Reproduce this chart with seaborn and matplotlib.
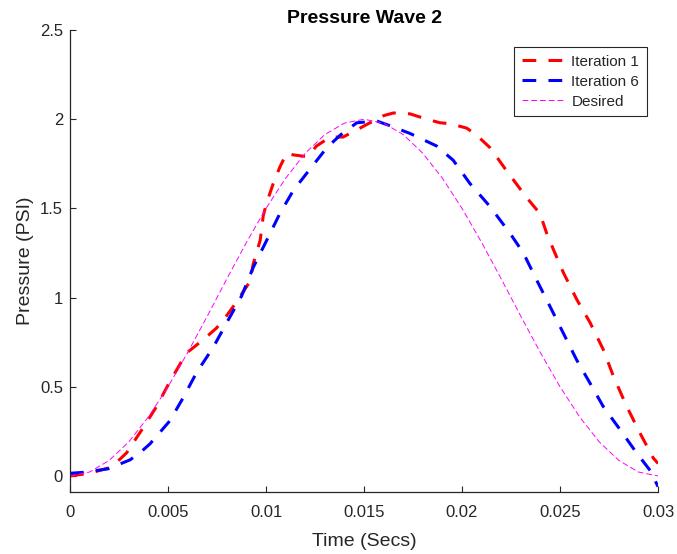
import matplotlib
matplotlib.use("Agg")
import matplotlib.pyplot as plt
import seaborn as sns
import numpy as np
import pandas as pd

# ---- data ----
t_iter1 = [0.0, 0.001, 0.00213, 0.00289, 0.00373, 0.00442, 0.0051, 0.00595, 0.0063, 0.00697,
           0.00748, 0.008, 0.00833, 0.00876, 0.00918, 0.00935, 0.0097, 0.00986, 0.01003, 0.01037,
           0.0107, 0.01105, 0.01139, 0.0121, 0.01258, 0.01327, 0.01393, 0.01463, 0.0153, 0.016,
           0.0165, 0.01735, 0.0182, 0.01888, 0.0194, 0.02024, 0.02075, 0.02143, 0.02228, 0.0233,
           0.02398, 0.02432, 0.02466, 0.02517, 0.02585, 0.02653, 0.0272, 0.02772, 0.0284, 0.02908,
           0.02976, 0.03]
p_iter1 = [0.0, 0.015, 0.05, 0.13, 0.27, 0.39, 0.53, 0.69, 0.72, 0.78,
           0.83, 0.90, 0.95, 1.02, 1.09, 1.19, 1.32, 1.46, 1.53, 1.64,
           1.73, 1.81, 1.80, 1.79, 1.85, 1.90, 1.90, 1.94, 1.98, 2.02,
           2.035, 2.03, 2.00, 1.98, 1.975, 1.95, 1.91, 1.84, 1.71, 1.56,
           1.47, 1.36, 1.27, 1.14, 0.99, 0.86, 0.71, 0.56, 0.39, 0.24,
           0.10, 0.07]

t_iter6 = [0.0, 0.00067, 0.00194, 0.00306, 0.00357, 0.00408, 0.0051, 0.00578, 0.00646, 0.0073,
           0.008, 0.00876, 0.00935, 0.01003, 0.0107, 0.01139, 0.01224, 0.0131, 0.01378, 0.01463,
           0.01565, 0.01616, 0.01735, 0.0187, 0.01955, 0.0204, 0.02143, 0.02245, 0.02313, 0.0238,
           0.02449, 0.02517, 0.02585, 0.02653, 0.0272, 0.02806, 0.0289, 0.0296, 0.03]
p_iter6 = [0.015, 0.02, 0.04, 0.09, 0.13, 0.18, 0.31, 0.44, 0.58, 0.72,
           0.86, 1.01, 1.17, 1.32, 1.47, 1.60, 1.72, 1.84, 1.91, 1.98,
           1.99, 1.97, 1.92, 1.85, 1.77, 1.64, 1.51, 1.36, 1.25, 1.10,
           0.95, 0.80, 0.65, 0.52, 0.39, 0.26, 0.13, 0.03, -0.06]

t_desired = [0.0, 0.001, 0.002, 0.003, 0.004, 0.005, 0.006, 0.007, 0.008, 0.009, 0.010,
             0.011, 0.012, 0.013, 0.014, 0.015, 0.016, 0.017, 0.018, 0.019, 0.020,
             0.021, 0.022, 0.023, 0.024, 0.025, 0.026, 0.027, 0.028, 0.029, 0.030]
p_desired = [0.0, 0.022, 0.087, 0.191, 0.331, 0.50, 0.691, 0.895, 1.105, 1.309, 1.50,
             1.669, 1.809, 1.914, 1.978, 2.0, 1.978, 1.914, 1.809, 1.669, 1.50,
             1.309, 1.105, 0.895, 0.691, 0.50, 0.331, 0.191, 0.087, 0.022, 0.0]

x_ticks = [0, 0.005, 0.01, 0.015, 0.02, 0.025, 0.03]
x_tick_labels = ["0", "0.005", "0.01", "0.015", "0.02", "0.025", "0.03"]
y_ticks = [0, 0.5, 1, 1.5, 2, 2.5]
y_tick_labels = ["0", "0.5", "1", "1.5", "2", "2.5"]

sns.set_style("white")
plt.rcParams['font.family'] = ['Liberation Sans', 'DejaVu Sans']

fig = plt.figure(figsize=(6.77, 5.54), dpi=100)
ax = fig.add_axes([0.1034, 0.1119, 0.8686, 0.8339])

tick_col = '#262626'
sns.lineplot(x=t_iter1, y=p_iter1, ax=ax, color=(1, 0, 0), lw=2.2,
             linestyle=(0, (4.5, 4)), label="Iteration 1", sort=False)
sns.lineplot(x=t_iter6, y=p_iter6, ax=ax, color=(0, 0, 1), lw=2.2,
             linestyle=(0, (4.5, 4)), label="Iteration 6", sort=False)
sns.lineplot(x=t_desired, y=p_desired, ax=ax, color=(1, 0, 1), lw=0.7,
             linestyle=(0, (6, 3)), label="Desired", sort=False)

ax.set_xlim(0, 0.03)
ax.set_ylim(-0.09, 2.5)
ax.set_xticks(x_ticks)
ax.set_xticklabels(x_tick_labels)
ax.set_yticks(y_ticks)
ax.set_yticklabels(y_tick_labels)
ax.tick_params(direction='in', length=4.5, width=0.8, colors=tick_col, labelsize=12,
               labelcolor=tick_col, bottom=True, left=True, top=False, right=False)
ax.tick_params(axis='x', pad=9)
ax.tick_params(axis='y', pad=5)

for s in ['top', 'right']:
    ax.spines[s].set_visible(False)
for s in ['left', 'bottom']:
    ax.spines[s].set_color(tick_col)
    ax.spines[s].set_linewidth(0.9)

ax.set_title("Pressure Wave 2", fontsize=14, fontweight='bold', color='black', pad=5)
ax.set_xlabel("Time (Secs)", fontsize=14, color=tick_col, labelpad=10)
ax.set_ylabel("Pressure (PSI)", fontsize=14, color=tick_col, labelpad=4)

leg = ax.legend(loc='upper right', bbox_to_anchor=(0.994, 0.98), fontsize=11,
                frameon=True, fancybox=False, framealpha=1, edgecolor='#262626',
                handlelength=2.8, handletextpad=0.45, borderpad=0.5, labelspacing=0.4)
leg.get_frame().set_linewidth(0.8)

fig.savefig("out.png", dpi=100)
